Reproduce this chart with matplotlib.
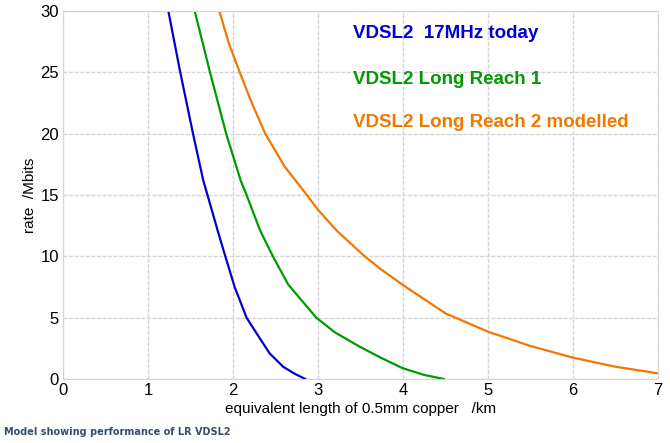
import numpy as np
import matplotlib
matplotlib.use("Agg")
from matplotlib import pyplot as plt

plt.rcParams['font.family'] = ['Liberation Sans', 'DejaVu Sans']

# curves: length (km) vs rate (Mbit/s)
x_vdsl = [1.24, 1.38, 1.53, 1.65, 1.70, 1.82, 1.91, 2.02, 2.16, 2.28, 2.43, 2.59, 2.72, 2.85]
y_vdsl = [30, 25, 20, 16.2, 15, 12.1, 10, 7.5, 5, 3.7, 2.1, 1.0, 0.45, 0]

x_lr1 = [1.55, 1.73, 1.92, 2.09, 2.16, 2.32, 2.47, 2.65, 2.98, 3.2, 3.5, 3.75, 4.0, 4.25, 4.48]
y_lr1 = [30, 25, 20, 16.2, 15, 12.1, 10, 7.7, 5, 3.8, 2.6, 1.7, 0.87, 0.33, 0]

x_lr2 = [1.84, 1.95, 2.08, 2.21, 2.38, 2.61, 2.87, 3.0, 3.22, 3.55, 3.73, 4.0, 4.5, 5.0, 5.5, 6.0, 6.5, 7.0]
y_lr2 = [30, 27.4, 25, 22.7, 20, 17.3, 15, 13.8, 12.1, 10, 9.0, 7.66, 5.35, 3.86, 2.69, 1.74, 1.0, 0.46]

labels = ['VDSL2  17MHz today', 'VDSL2 Long Reach 1', 'VDSL2 Long Reach 2 modelled']
colors = ['#0000d0', '#009a00', '#f07800']
label_y = [28.2, 24.4, 20.9]

fig = plt.figure(figsize=(6.7, 4.43), dpi=100)
ax = fig.add_axes([0.094, 0.1445, 0.888, 0.8305])

for xs, ys, c in zip([x_vdsl, x_lr1, x_lr2], [y_vdsl, y_lr1, y_lr2], colors):
    ax.plot(xs, ys, color=c, lw=1.6)

for txt, c, ly in zip(labels, colors, label_y):
    ax.text(3.41, ly, txt, color=c, fontsize=13.5, fontweight='bold', va='center')

ax.set_xlim(0, 7)
ax.set_ylim(0, 30)
ax.set_xticks(range(0, 8))
ax.set_yticks(range(0, 31, 5))
ax.grid(True, color='#d4d4dc', lw=1, linestyle=(0, (3, 1)))
ax.tick_params(length=0, labelsize=12, pad=3)
for s in ax.spines.values():
    s.set_color('#d4d4dc')
ax.set_xlabel('equivalent length of 0.5mm copper   /km', fontsize=11, labelpad=3)
ax.set_ylabel('rate  /Mbits', fontsize=11, labelpad=2)

fig.text(0.006, 0.018, 'Model showing performance of LR VDSL2', fontsize=7,
         fontweight='bold', color='#3a4c6e', family='DejaVu Sans')

fig.savefig('out.png', dpi=100)
